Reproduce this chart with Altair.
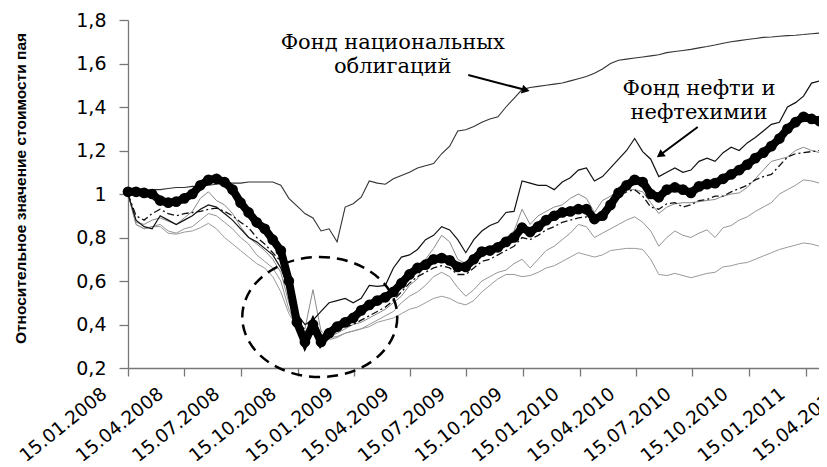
import math
import altair as alt
import pandas as pd

# ---------------- data ----------------
start_date = "2008-01-15"
n_points = 87
dates = pd.date_range(start_date, periods=n_points, freq="13D").strftime("%Y-%m-%d").tolist()

bond_fund = [1.00, 1.01, 1.015, 1.02, 1.02, 1.025, 1.03, 1.03, 1.035, 1.035,
             1.04, 1.045, 1.05, 1.05, 1.05, 1.055, 1.055, 1.055, 1.055, 1.04,
             0.98, 0.945, 0.91, 0.89, 0.83, 0.84, 0.78, 0.94, 0.955, 0.985,
             1.06, 1.05, 1.045, 1.07, 1.085, 1.10, 1.12, 1.13, 1.14, 1.185,
             1.22, 1.29, 1.295, 1.31, 1.33, 1.345, 1.355, 1.40, 1.44, 1.48,
             1.49, 1.495, 1.50, 1.505, 1.51, 1.52, 1.53, 1.54, 1.555, 1.575,
             1.60, 1.615, 1.62, 1.625, 1.63, 1.635, 1.64, 1.65, 1.655, 1.66,
             1.665, 1.672, 1.678, 1.685, 1.693, 1.70, 1.705, 1.71, 1.715, 1.72,
             1.722, 1.725, 1.728, 1.73, 1.733, 1.737, 1.74]

main_fund = [1.01, 1.01, 1.005, 1.00, 0.97, 0.96, 0.965, 0.98, 1.00, 1.04,
             1.065, 1.07, 1.055, 1.02, 0.96, 0.915, 0.87, 0.84, 0.79, 0.74,
             0.60, 0.41, 0.32, 0.40, 0.32, 0.36, 0.39, 0.41, 0.43, 0.465,
             0.49, 0.51, 0.525, 0.55, 0.59, 0.63, 0.66, 0.675, 0.70, 0.705,
             0.695, 0.665, 0.665, 0.70, 0.735, 0.74, 0.755, 0.78, 0.80, 0.845,
             0.825, 0.85, 0.88, 0.90, 0.915, 0.92, 0.93, 0.93, 0.885, 0.90,
             0.95, 1.005, 1.04, 1.065, 1.055, 1.00, 0.985, 1.02, 1.03, 1.02,
             1.005, 1.035, 1.045, 1.05, 1.07, 1.09, 1.11, 1.135, 1.165, 1.19,
             1.22, 1.255, 1.30, 1.33, 1.355, 1.345, 1.335]

oil_fund = [1.00, 0.88, 0.85, 0.84, 0.90, 0.88, 0.86, 0.88, 0.90, 0.93,
            0.95, 0.94, 0.91, 0.88, 0.84, 0.80, 0.78, 0.75, 0.72, 0.66,
            0.56, 0.45, 0.40, 0.42, 0.46, 0.50, 0.51, 0.52, 0.50, 0.52,
            0.58, 0.575, 0.58, 0.66, 0.71, 0.72, 0.745, 0.79, 0.81, 0.85,
            0.835, 0.79, 0.73, 0.79, 0.83, 0.855, 0.87, 0.915, 0.92, 1.06,
            1.05, 1.04, 1.04, 1.02, 1.055, 1.075, 1.11, 1.12, 1.06, 1.08,
            1.12, 1.16, 1.20, 1.255, 1.195, 1.16, 1.08, 1.10, 1.12, 1.10,
            1.11, 1.15, 1.165, 1.15, 1.19, 1.215, 1.20, 1.235, 1.26, 1.29,
            1.32, 1.33, 1.40, 1.42, 1.45, 1.51, 1.52]

dashed_fund = [1.00, 0.90, 0.88, 0.91, 0.93, 0.91, 0.90, 0.91, 0.915, 0.92,
               0.93, 0.935, 0.92, 0.90, 0.87, 0.845, 0.80, 0.77, 0.73, 0.69,
               0.58, 0.44, 0.37, 0.38, 0.34, 0.36, 0.37, 0.39, 0.40, 0.42,
               0.44, 0.46, 0.48, 0.51, 0.55, 0.59, 0.62, 0.64, 0.66, 0.67,
               0.66, 0.63, 0.63, 0.66, 0.69, 0.70, 0.72, 0.74, 0.76, 0.80,
               0.79, 0.81, 0.835, 0.85, 0.87, 0.88, 0.89, 0.895, 0.87, 0.89,
               0.95, 0.99, 1.01, 1.02, 0.99, 0.94, 0.93, 0.955, 0.96, 0.94,
               0.95, 0.97, 0.975, 0.99, 0.99, 1.01, 1.025, 1.04, 1.065, 1.08,
               1.09, 1.13, 1.17, 1.185, 1.19, 1.195, 1.20]

gray_a = [1.00, 0.87, 0.86, 0.88, 0.89, 0.875, 0.86, 0.89, 0.92, 0.98,
          1.01, 0.97, 0.95, 0.91, 0.85, 0.80, 0.77, 0.74, 0.70, 0.64,
          0.50, 0.42, 0.38, 0.56, 0.37, 0.34, 0.36, 0.38, 0.40, 0.41,
          0.43, 0.45, 0.47, 0.50, 0.53, 0.58, 0.61, 0.70, 0.75, 0.81,
          0.78, 0.70, 0.68, 0.70, 0.72, 0.74, 0.77, 0.80, 0.83, 0.93,
          0.86, 0.90, 0.92, 0.94, 0.95, 0.98, 1.00, 0.98, 0.915, 0.97,
          0.99, 1.02, 1.02, 1.02, 1.01, 0.96, 0.91, 0.94, 0.955, 0.96,
          0.96, 0.965, 0.97, 0.975, 0.99, 1.00, 1.005, 1.03, 1.07, 1.11,
          1.15, 1.16, 1.17, 1.20, 1.215, 1.20, 1.19]

gray_b = [1.00, 0.86, 0.84, 0.85, 0.86, 0.83, 0.82, 0.84, 0.85, 0.88,
          0.91, 0.90, 0.87, 0.84, 0.80, 0.77, 0.72, 0.69, 0.66, 0.60,
          0.47, 0.39, 0.36, 0.44, 0.35, 0.33, 0.34, 0.36, 0.37, 0.38,
          0.40, 0.42, 0.44, 0.46, 0.50, 0.53, 0.55, 0.58, 0.62, 0.64,
          0.62, 0.57, 0.53, 0.56, 0.60, 0.62, 0.64, 0.65, 0.68, 0.70,
          0.66, 0.70, 0.74, 0.76, 0.79, 0.82, 0.86, 0.85, 0.80, 0.82,
          0.84, 0.86, 0.88, 0.895, 0.87, 0.83, 0.76, 0.80, 0.83, 0.81,
          0.80, 0.82, 0.835, 0.80, 0.845, 0.855, 0.88, 0.895, 0.92, 0.94,
          0.96, 1.00, 1.02, 1.04, 1.065, 1.06, 1.05]

gray_c = [1.00, 0.86, 0.84, 0.85, 0.85, 0.82, 0.815, 0.825, 0.83, 0.845,
          0.865, 0.84, 0.80, 0.77, 0.74, 0.71, 0.68, 0.66, 0.62, 0.55,
          0.45, 0.39, 0.37, 0.38, 0.35, 0.34, 0.345, 0.36, 0.37, 0.38,
          0.39, 0.41, 0.42, 0.43, 0.45, 0.47, 0.48, 0.50, 0.52, 0.53,
          0.52, 0.50, 0.49, 0.51, 0.55, 0.58, 0.61, 0.63, 0.63, 0.62,
          0.625, 0.64, 0.66, 0.67, 0.69, 0.71, 0.73, 0.72, 0.71, 0.72,
          0.74, 0.745, 0.75, 0.75, 0.745, 0.70, 0.63, 0.625, 0.635, 0.625,
          0.615, 0.625, 0.635, 0.64, 0.665, 0.67, 0.68, 0.685, 0.70, 0.715,
          0.73, 0.745, 0.755, 0.765, 0.775, 0.77, 0.76]

tick_dates = [(2008, 1), (2008, 4), (2008, 7), (2008, 10),
              (2009, 1), (2009, 4), (2009, 7), (2009, 10),
              (2010, 1), (2010, 4), (2010, 7), (2010, 10),
              (2011, 1)]
# the last tick label lies beyond the visible plot, only its lower part shows
cut_tick_date = ["2011-04-15"]
cut_tick_label = ["15.04.2011"]
y_ticks = [0.2, 0.4, 0.6, 0.8, 1.0, 1.2, 1.4, 1.6, 1.8]

y_title = "Относительное значение стоимости пая"

# annotations (data coordinates)
labels_text = ["Фонд национальных", "облигаций", "Фонд нефти и", "нефтехимии"]
labels_date = ["2009-03-18", "2009-03-18", "2010-07-26", "2010-07-26"]
labels_value = [1.667, 1.556, 1.455, 1.345]

arrow_from_date = ["2009-07-18", "2010-07-24"]
arrow_from_value = [1.547, 1.308]
arrow_to_date = ["2009-10-19", "2010-05-24"]
arrow_to_value = [1.478, 1.179]
arrow_angle = [14.5, 143.6]

circle_date = ["2008-11-20"]
circle_value = [0.4345]

# ---------------- style ----------------
LABEL_ANGLE = -39
LABEL_OFFSET = -24
TICK_SIZE = 8
LABEL_PADDING = 15
LABEL_FONT_SIZE = 18.5

x_scale = alt.Scale(domain=[alt.DateTime(year=2008, month=1, date=15, utc=True),
                            alt.DateTime(year=2011, month=2, date=5, utc=True)])
y_scale = alt.Scale(domain=[0.2, 1.8], zero=False, nice=False)

x_axis = alt.Axis(
    values=[alt.DateTime(year=y, month=m, date=15, utc=True) for y, m in tick_dates],
    labelExpr="utcFormat(datum.value, '%d.%m.%Y')",
    labelAngle=LABEL_ANGLE, labelAlign="right", labelBaseline="middle",
    labelOffset=LABEL_OFFSET, labelPadding=LABEL_PADDING, labelFlush=False, labelOverlap=False,
    labelFont="DejaVu Sans", labelFontSize=LABEL_FONT_SIZE, labelColor="black",
    tickSize=TICK_SIZE, tickColor="#777777", domainColor="#777777", domainWidth=1.3,
    tickWidth=1.3, grid=False, title=None)

y_axis = alt.Axis(
    values=y_ticks,
    labelExpr="abs(datum.value - 1) < 1e-9 ? '1' : replace(format(datum.value, '.1f'), '.', ',')",
    labelFont="DejaVu Sans", labelFontSize=19, labelColor="black", labelPadding=13,
    tickSize=9, tickColor="#777777", domainColor="#777777", domainWidth=1.3, tickWidth=1.3,
    grid=False, title=y_title, titleFont="Liberation Sans", titleFontSize=15.5,
    titleFontWeight="bold", titleColor="black", titleX=-108, titleY=168,
    titleAngle=270, titleAlign="center", titleBaseline="middle")

X = lambda f: alt.X(f, scale=x_scale, axis=x_axis)
Y = lambda f: alt.Y(f, scale=y_scale, axis=y_axis)


def series_df(values):
    return pd.DataFrame({"date": dates, "value": values})


def line_layer(values, color, width, dash=None):
    kwargs = dict(color=color, strokeWidth=width, interpolate="linear")
    if dash is not None:
        kwargs["strokeDash"] = dash
    return alt.Chart(series_df(values)).mark_line(**kwargs).encode(
        x=X("date:T"), y=Y("value:Q"))


layers = [
    line_layer(gray_c, "#9a9a9a", 1.0),
    line_layer(gray_b, "#959595", 1.0),
    line_layer(gray_a, "#8a8a8a", 1.0),
    line_layer(dashed_fund, "#111111", 1.3, dash=[7, 3, 2, 3]),
    line_layer(oil_fund, "#111111", 1.2),
    line_layer(bond_fund, "#333333", 1.1),
    line_layer(main_fund, "black", 8),
    alt.Chart(series_df(main_fund)).mark_circle(size=115, color="black", opacity=1).encode(
        x=X("date:T"), y=Y("value:Q")),
]

text_df = pd.DataFrame({"date": labels_date, "value": labels_value, "text": labels_text})
layers.append(alt.Chart(text_df).mark_text(font="DejaVu Serif", fontSize=21, align="center",
                                           baseline="alphabetic", color="black").encode(
    x=X("date:T"), y=Y("value:Q"), text="text:N"))

arrow_df = pd.DataFrame({"d1": arrow_from_date, "v1": arrow_from_value,
                         "d2": arrow_to_date, "v2": arrow_to_value, "ang": arrow_angle})
layers.append(alt.Chart(arrow_df).mark_rule(color="black", strokeWidth=2).encode(
    x=X("d1:T"), y=Y("v1:Q"), x2="d2:T", y2="v2:Q"))
layers.append(alt.Chart(arrow_df).mark_point(shape="triangle-right", filled=True, size=80,
                                             color="black", opacity=1).encode(
    x=X("d2:T"), y=Y("v2:Q"), angle=alt.Angle("ang:Q", scale=None)))

ellipse_path = ("M 1 0 C 1 0.4275 0.5523 0.774 0 0.774 "
                "C -0.5523 0.774 -1 0.4275 -1 0 "
                "C -1 -0.4275 -0.5523 -0.774 0 -0.774 "
                "C 0.5523 -0.774 1 -0.4275 1 0 Z")
circle_df = pd.DataFrame({"date": circle_date, "value": circle_value})
layers.append(alt.Chart(circle_df).mark_point(shape=ellipse_path, size=24025, filled=False,
                                              color="black", strokeWidth=2.5,
                                              strokeDash=[11, 7], opacity=1).encode(
    x=X("date:T"), y=Y("value:Q")))

# cut-off tick label (same placement rule as the axis labels)
ox, oy = LABEL_OFFSET, TICK_SIZE + LABEL_PADDING
a = math.radians(LABEL_ANGLE)
dx = ox * math.cos(a) + oy * math.sin(a)
dy = -ox * math.sin(a) + oy * math.cos(a)
cut_df = pd.DataFrame({"date": cut_tick_date, "value": [0.2], "text": cut_tick_label})
layers.append(alt.Chart(cut_df).mark_text(font="DejaVu Sans", fontSize=LABEL_FONT_SIZE,
                                          align="right", baseline="middle", color="black",
                                          angle=360 + LABEL_ANGLE, dx=dx, dy=dy).encode(
    x=X("date:T"), y=Y("value:Q"), text="text:N"))

chart = alt.layer(*layers).properties(
    width=691, height=348,
    padding={"left": 120, "top": 12, "right": 0, "bottom": 99},
    autosize=alt.AutoSizeParams(type="none"),
    background="white",
).configure_view(strokeWidth=0)

chart.save("out.html", embed_options={"renderer": "svg", "actions": False})
